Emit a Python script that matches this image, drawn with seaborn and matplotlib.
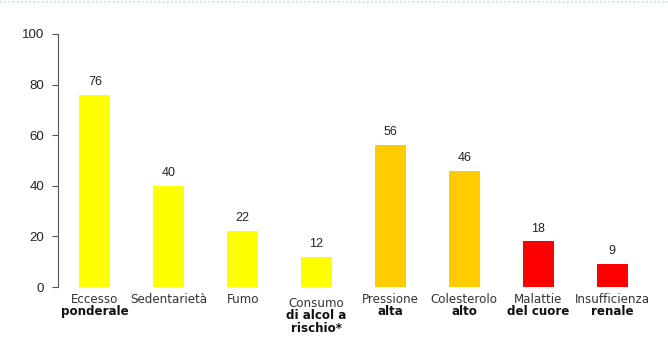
import matplotlib
matplotlib.use("Agg")
import matplotlib.pyplot as plt
import seaborn as sns
import pandas as pd
from matplotlib.lines import Line2D

sns.set_style("white")
plt.rcParams['font.family'] = ['DejaVu Sans']

categories = ["Eccesso ponderale", "Sedentarietà", "Fumo", "Consumo di alcol a rischio*",
              "Pressione alta", "Colesterolo alto", "Malattie del cuore", "Insufficienza renale"]
values = [76, 40, 22, 12, 56, 46, 18, 9]
colors = ["#FFFF00", "#FFFF00", "#FFFF00", "#FFFF00", "#FFCC00", "#FFCC00", "#FF0000", "#FF0000"]
label_normal = ["Eccesso", "Sedentarietà", "Fumo", "Consumo", "Pressione", "Colesterolo", "Malattie", "Insufficienza"]
label_bold = ["ponderale", "", "", "di alcol a\nrischio*", "alta", "alto", "del cuore", "renale"]
yticks = [0, 20, 40, 60, 80, 100]

df = pd.DataFrame({"cat": categories, "val": values})

fig = plt.figure(figsize=(6.68, 3.37), dpi=100)
ax_h = 287 - 34
ax = fig.add_axes([58/668, 1-287/337, (649-58)/668, ax_h/337])
sns.barplot(data=df, x="cat", y="val", hue="cat", palette=colors, legend=False,
            width=0.42, saturation=1, linewidth=0, ax=ax)

ax.set_xlim(-0.5, 7.5)
ax.set_ylim(0, 100)
ax.set_yticks(yticks)
ax.set_yticklabels([str(t) for t in yticks], fontsize=9.5, family="Liberation Sans", color="#222222")
ax.tick_params(axis="y", length=4, width=0.8, color="#555555", direction="out", left=True, pad=6)
ax.set_xticks(range(len(categories)))
ax.set_xticklabels([""] * len(categories))
ax.tick_params(axis="x", length=0)
ax.set_xlabel("")
ax.set_ylabel("")
for s in ["top", "right", "bottom"]:
    ax.spines[s].set_visible(False)
ax.spines["left"].set_color("#555555")
ax.spines["left"].set_linewidth(0.8)

for p in ax.patches:
    h = p.get_height()
    if h and h > 0:
        ax.annotate(f"{h:g}", (p.get_x() + p.get_width() / 2, h), xytext=(0, 5),
                    textcoords="offset points", ha="center", va="bottom", fontsize=9,
                    family="Liberation Sans", color="#222222")

trans = ax.get_xaxis_transform()
for i, (n, b) in enumerate(zip(label_normal, label_bold)):
    top1 = 6 if i != 3 else 10
    ax.text(i, -top1 / ax_h, n, transform=trans, ha="center", va="top", fontsize=8.6, color="#333333")
    if b:
        ax.text(i, -(top1 + 12) / ax_h, b, transform=trans, ha="center", va="top", fontsize=8.6,
                fontweight="bold", color="#111111", linespacing=1.0)

fig.add_artist(Line2D([0, 1], [1 - 2/337, 1 - 2/337], transform=fig.transFigure,
                      color="#cce6ea", linewidth=1.5, linestyle=(0, (1, 1))))

fig.savefig("out.png", dpi=100)
